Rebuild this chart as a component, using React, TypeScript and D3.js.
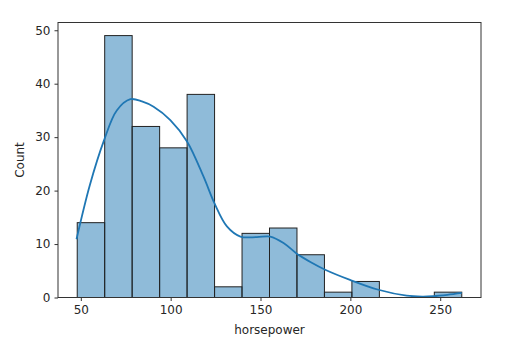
import React, { useEffect, useRef } from 'react';
import * as d3 from 'd3';

// histogram of horsepower, 14 equal bins between min and max
const hpMin = 48;
const hpMax = 262;
const counts = [14, 49, 32, 28, 38, 2, 12, 13, 8, 1, 3, 0, 0, 1];

// kde curve (scaled to counts)
const kdeX = [47.6, 55, 62.8, 70, 77.6, 84, 90.5, 99.8, 109.1, 118.3, 124.4, 131.3, 138.8, 148, 155.4, 162.8, 170.2, 178, 186, 199.8, 215.6, 231.3, 240, 246.1, 254, 262];
const kdeY = [10.9, 21, 29.3, 35, 37.1, 36.7, 35.7, 33.2, 29.2, 22.6, 17.6, 13.3, 11.4, 11.3, 11.4, 10.2, 8.2, 6.6, 5.2, 3.3, 1.45, 0.35, 0.18, 0.25, 0.5, 0.85];

const xTicks = [50, 100, 150, 200, 250];
const yTicks = [0, 10, 20, 30, 40, 50];

const App: React.FC = () => {
  const svgRef = useRef() as React.MutableRefObject<SVGSVGElement>;

  useEffect(() => {
    const W = 532, H = 364;
    const margin = { top: 22.5, right: 51, bottom: 66.5, left: 58 };
    const width = W - margin.left - margin.right;
    const height = H - margin.top - margin.bottom;

    const svg = d3.select(svgRef.current);
    svg.html('');
    svg.attr('width', W).attr('height', H);

    const g = svg.append('g').attr('transform', `translate(${margin.left},${margin.top})`);

    const pad = (hpMax - hpMin) * 0.05;
    const x = d3.scaleLinear().domain([hpMin - pad, hpMax + pad]).range([0, width]);
    const yMax = d3.max(counts)! * 1.05;
    const y = d3.scaleLinear().domain([0, yMax]).range([height, 0]);

    const binW = (hpMax - hpMin) / counts.length;
    const bins = counts.map((c, i) => ({ x0: hpMin + i * binW, x1: hpMin + (i + 1) * binW, c }));

    // bars
    g.selectAll('rect.bar')
      .data(bins)
      .enter()
      .append('rect')
      .attr('class', 'bar')
      .attr('x', d => x(d.x0))
      .attr('width', d => x(d.x1) - x(d.x0))
      .attr('y', d => y(d.c))
      .attr('height', d => y(0) - y(d.c))
      .attr('fill', 'rgba(31,119,180,0.5)')
      .attr('stroke', '#222')
      .attr('stroke-width', 1);

    // kde line
    const line = d3.line<number>()
      .x((d, i) => x(kdeX[i]))
      .y(d => y(d))
      .curve(d3.curveCatmullRom);
    g.append('path')
      .datum(kdeY)
      .attr('fill', 'none')
      .attr('stroke', '#1f77b4')
      .attr('stroke-width', 1.8)
      .attr('d', line);

    // frame
    g.append('rect')
      .attr('x', 0).attr('y', 0)
      .attr('width', width).attr('height', height)
      .attr('fill', 'none')
      .attr('stroke', '#333')
      .attr('stroke-width', 1);

    const font = 'DejaVu Sans, sans-serif';
    const fs = 12;

    // x axis
    const xAxis = g.append('g')
      .attr('transform', `translate(0,${height})`)
      .call(d3.axisBottom(x).tickValues(xTicks).tickSize(3.5).tickPadding(4).tickFormat(d3.format('d')));
    xAxis.select('.domain').remove();
    xAxis.selectAll('line').attr('stroke', '#333');
    xAxis.selectAll('text').attr('fill', '#262626').attr('font-family', font).attr('font-size', fs);

    const yAxis = g.append('g')
      .call(d3.axisLeft(y).tickValues(yTicks).tickSize(3.5).tickPadding(4).tickFormat(d3.format('d')));
    yAxis.select('.domain').remove();
    yAxis.selectAll('line').attr('stroke', '#333');
    yAxis.selectAll('text').attr('fill', '#262626').attr('font-family', font).attr('font-size', fs);

    g.append('text')
      .attr('x', width / 2)
      .attr('y', height + 36.5)
      .attr('text-anchor', 'middle')
      .attr('font-family', font)
      .attr('font-size', fs)
      .attr('fill', '#262626')
      .text('horsepower');

    g.append('text')
      .attr('transform', `translate(${-34},${height / 2}) rotate(-90)`)
      .attr('text-anchor', 'middle')
      .attr('font-family', font)
      .attr('font-size', fs)
      .attr('fill', '#262626')
      .text('Count');
  }, []);

  return <svg ref={svgRef} style={{ position: 'absolute', left: 0, top: 0 }} />;
};

export default App;
